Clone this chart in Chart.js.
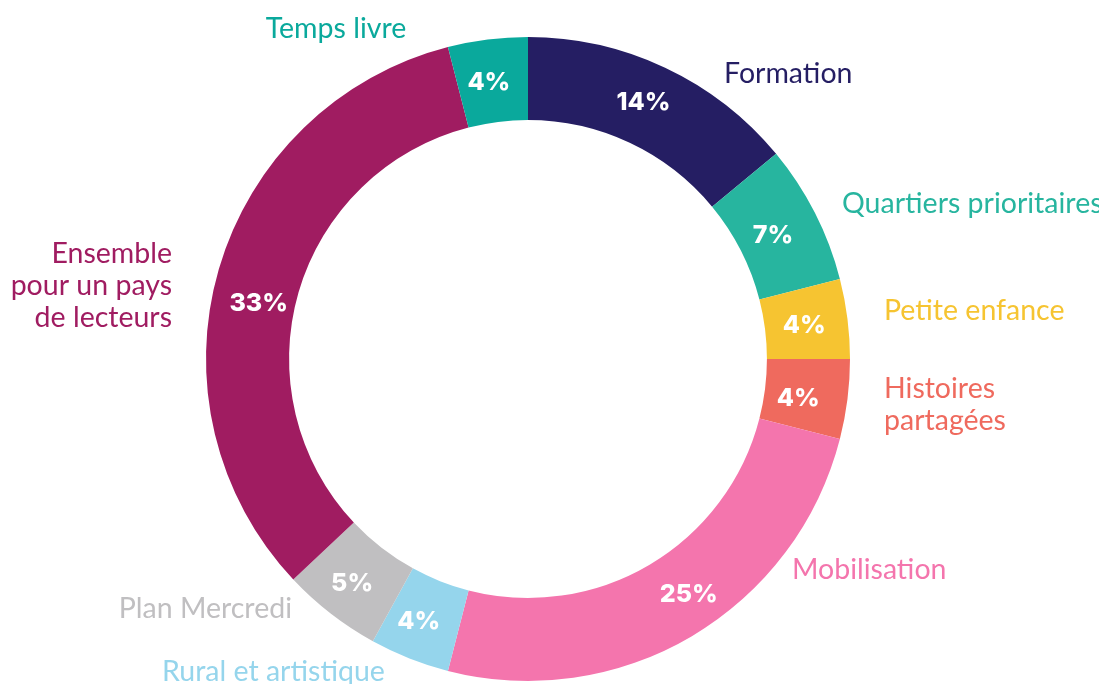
<!DOCTYPE html>
<html>
<head>
<meta charset="utf-8">
<script src="https://cdn.jsdelivr.net/npm/chart.js@4/dist/chart.umd.min.js"></script>
<style>
html,body{margin:0;padding:0;background:#fff;}
#wrap{width:1099px;height:684px;position:relative;}
</style>
</head>
<body>
<div id="wrap"><canvas id="c" width="1099" height="684"></canvas></div>
<script>
const categories = ["Formation","Quartiers prioritaires","Petite enfance","Histoires partagées","Mobilisation","Rural et artistique","Plan Mercredi","Ensemble pour un pays de lecteurs","Temps livre"];
const values = [14, 7, 4, 4, 25, 4, 5, 33, 4];
const colors = ["#251e63","#27b59f","#f6c431","#ef6a5e","#f475ad","#95d5ec","#c0bfc1","#a01c61","#0aa99c"];
// label text lines as shown next to the ring
const labelLines = [["Formation"],["Quartiers prioritaires"],["Petite enfance"],["Histoires","partagées"],["Mobilisation"],["Rural et artistique"],["Plan Mercredi"],["Ensemble","pour un pays","de lecteurs"],["Temps livre"]];
// placement of the outside labels (layout only)
const labelLayout = [
  {x:724, y:74, align:"left"},
  {x:842, y:204, align:"left"},
  {x:884, y:311, align:"left"},
  {x:884, y:389, align:"left"},
  {x:792, y:570, align:"left"},
  {x:162, y:672, align:"left"},
  {x:292, y:609, align:"right"},
  {x:172, y:254, align:"right"},
  {x:336, y:29, align:"center"}
];
// small nudges of the percentage labels from the arc centre (layout only)
const pctNudge = [[-4,-3],[-5,4],[-2,2],[-8,4],[18,-6],[-6,2],[-4,3],[0,23],[-4,2]];

const labelPlugin = {
  id: 'labels',
  afterDatasetsDraw(chart){
    const ctx = chart.ctx;
    const meta = chart.getDatasetMeta(0);
    ctx.save();
    ctx.textBaseline = 'middle';
    meta.data.forEach((arc, i) => {
      const p = arc.getCenterPoint();
      ctx.fillStyle = '#ffffff';
      ctx.font = '800 25px Inter';
      ctx.textAlign = 'center';
      ctx.fillText(values[i] + '%', p.x + pctNudge[i][0], p.y + pctNudge[i][1]);
      const L = labelLayout[i];
      ctx.fillStyle = colors[i];
      ctx.font = '28.5px Lato';
      ctx.textAlign = L.align;
      labelLines[i].forEach((t, k) => ctx.fillText(t, L.x, L.y + k*32));
    });
    ctx.restore();
  }
};

new Chart(document.getElementById('c'), {
  type: 'doughnut',
  data: { labels: categories, datasets: [{ data: values, backgroundColor: colors, borderWidth: 0 }] },
  options: {
    responsive: false,
    animation: false,
    cutout: '74.2%',
    layout: { padding: { top: 37, bottom: 3, left: 0, right: 43 } },
    plugins: { legend: { display: false }, tooltip: { enabled: false } }
  },
  plugins: [labelPlugin]
});
</script>
</body>
</html>
